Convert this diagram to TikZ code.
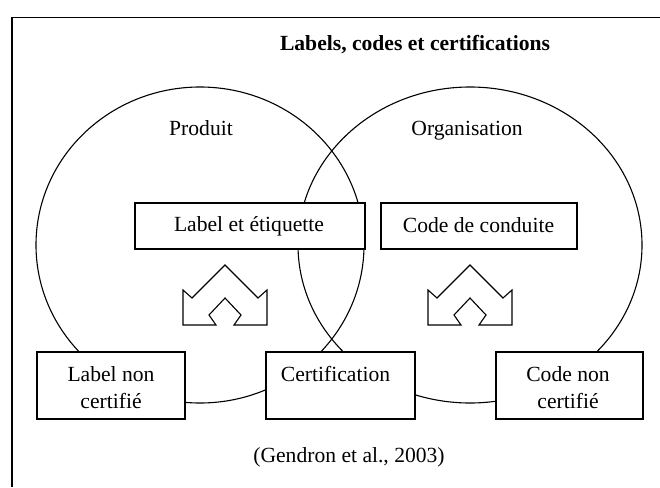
\documentclass[tikz,border=0pt]{standalone}
\usepackage{fontspec}
\setmainfont{Liberation Serif}
\begin{document}
\begin{tikzpicture}[x=1pt,y=-1pt, line join=miter,
  box/.style={draw, line width=1.1pt, fill=white, rectangle, inner sep=0pt},
  txt/.style={inner sep=0pt, anchor=base, font=\fontsize{21.6}{27}\selectfont},
  ring/.style={draw, line width=1.1pt},
  house/.style={draw, line width=1.1pt}]
\useasboundingbox (0,0) rectangle (660,487);
% frame
\draw[line width=1.4pt] (12,487) -- (12,17.5) -- (660,17.5);
% circles
\draw[ring] (200,245) ellipse [x radius=164pt, y radius=158pt];
\draw[ring] (470,245) ellipse [x radius=172pt, y radius=158pt];
% boxes
\node[box, minimum width=230pt, minimum height=46pt] (let) at (250,226) {};
\node[box, minimum width=196pt, minimum height=46pt] (cdc) at (479,226) {};
\node[box, minimum width=148pt, minimum height=67pt] (lnc) at (111,385.5) {};
\node[box, minimum width=149pt, minimum height=67pt] (cert) at (340.5,385.5) {};
\node[box, minimum width=147pt, minimum height=67pt] (cnc) at (569.5,385.5) {};
% houses
\draw[house, shift={(225,325)}] (-42,0) -- (-42,-35) -- (-33,-27) -- (0,-60) -- (33,-27) -- (42,-35) -- (42,0) -- (9,0) -- (16,-10) -- (0,-27) -- (-16,-10) -- (-9,0) -- cycle;
\draw[house, shift={(470,325)}] (-42,0) -- (-42,-35) -- (-33,-27) -- (0,-60) -- (33,-27) -- (42,-35) -- (42,0) -- (9,0) -- (16,-10) -- (0,-27) -- (-16,-10) -- (-9,0) -- cycle;
% texts
\node[txt, font=\fontsize{21.6}{27}\selectfont\bfseries] (title) at (415,50) {Labels, codes et certifications};
\node[txt] (prod) at (201,135) {Produit};
\node[txt] (org) at (467,135) {Organisation};
\node[txt] (tlet) at (249,231) {Label et étiquette};
\node[txt] (tcdc) at (478.5,232) {Code de conduite};
\node[txt] (tlnc1) at (111,381.5) {Label non};
\node[txt] (tlnc2) at (111,408) {certifié};
\node[txt] (tcert) at (335.5,381) {Certification};
\node[txt] (tcnc1) at (568,381.5) {Code non};
\node[txt] (tcnc2) at (568,408) {certifié};
\node[txt] (src) at (349,462) {(Gendron et al., 2003)};
\end{tikzpicture}
\end{document}
